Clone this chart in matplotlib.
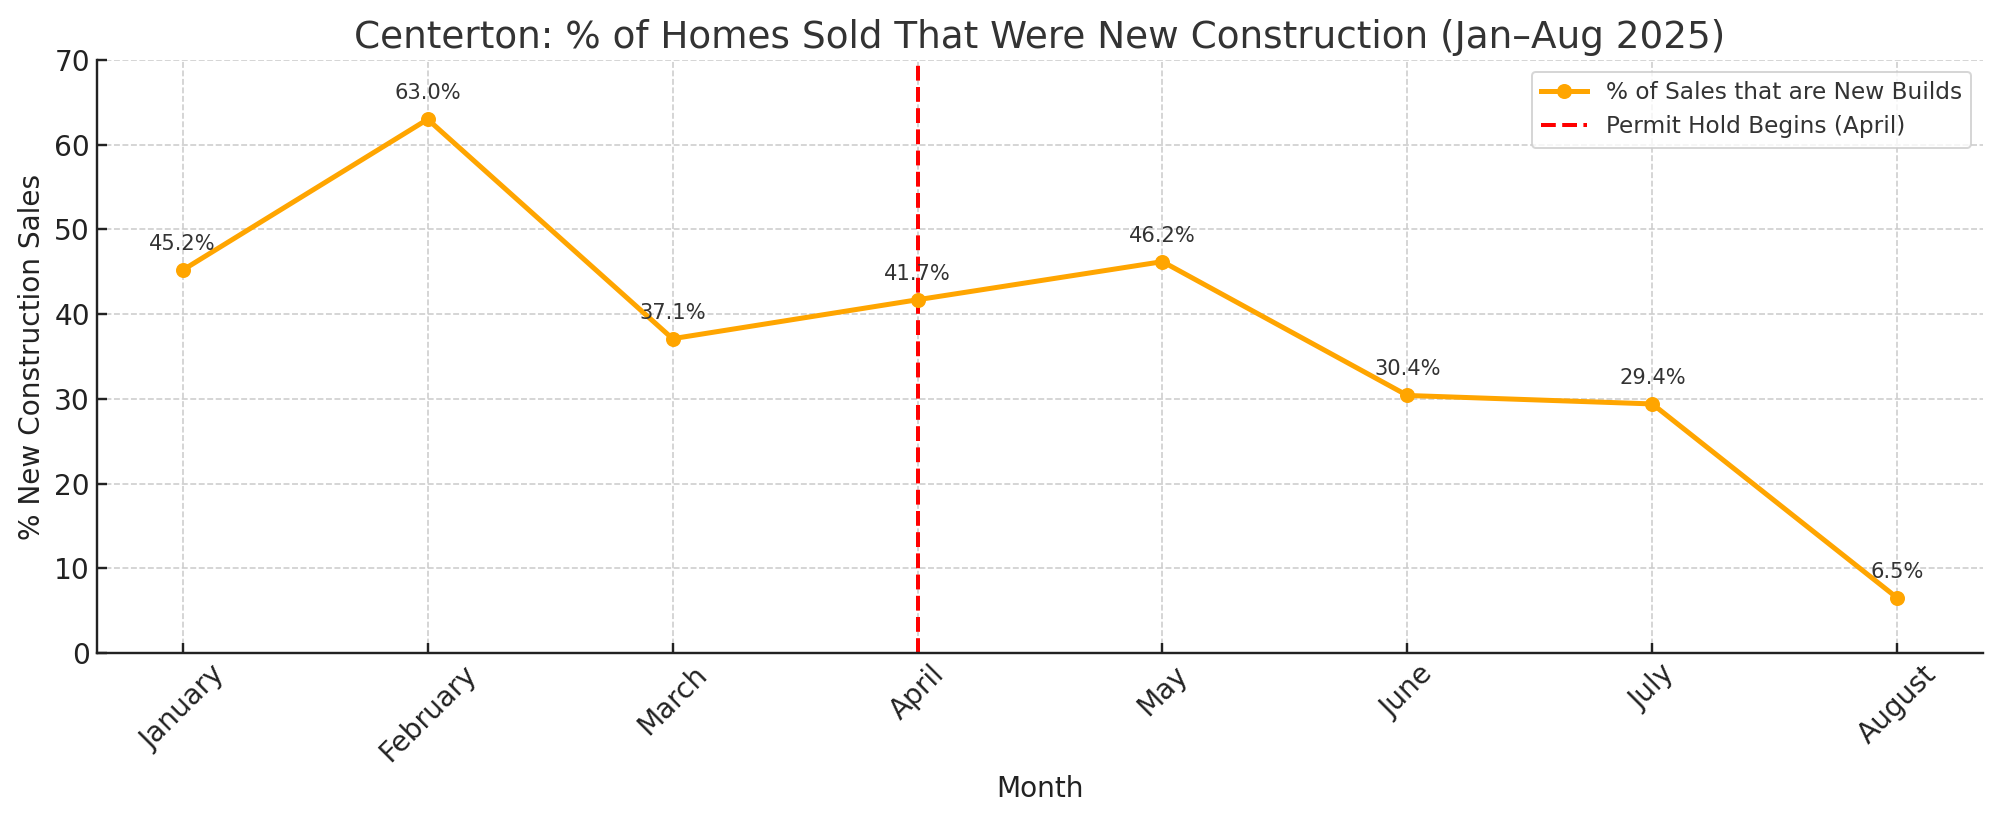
import matplotlib
matplotlib.use('Agg')
import matplotlib.pyplot as plt

months = ['January', 'February', 'March', 'April', 'May', 'June', 'July', 'August']
pct_new = [45.2, 63.0, 37.1, 41.7, 46.2, 30.4, 29.4, 6.5]
hold_month = 'April'

plt.rcParams['text.color'] = '#333333'
plt.rcParams['axes.labelcolor'] = '#222222'
plt.rcParams['xtick.color'] = '#222222'
plt.rcParams['ytick.color'] = '#222222'

fig = plt.figure(figsize=(1998 / 144, 823 / 144), dpi=144)
ax = fig.add_axes([97 / 1998, 1 - 653 / 823, (1983 - 97) / 1998, (653 - 60) / 823])

x = list(range(len(months)))
ax.plot(x, pct_new, color='orange', marker='o', linewidth=2.5, markersize=6.5,
        label='% of Sales that are New Builds', zorder=3)
ax.axvline(months.index(hold_month), color='red', linestyle='--', linewidth=2,
           label='Permit Hold Begins (April)', zorder=2)

for xi, v in zip(x, pct_new):
    ax.annotate(f'{v:.1f}%', (xi, v), textcoords='offset points', xytext=(0, 10),
                ha='center', fontsize=10.5, color='#333333')

ax.set_xticks(x)
ax.set_xticklabels(months, rotation=45, fontsize=14)
ax.tick_params(axis='y', labelsize=14)
ax.tick_params(direction='in', length=5, width=1.2)
ax.set_ylim(0, 70)
ax.set_xlim(-0.35, 7.35)

ax.set_title('Centerton: % of Homes Sold That Were New Construction (Jan\u2013Aug 2025)',
             fontsize=18.7, color='#333333', pad=6)
ax.set_xlabel('Month', fontsize=14, labelpad=4)
ax.set_ylabel('% New Construction Sales', fontsize=14)

ax.grid(True, linestyle='--', color='#cccccc', linewidth=0.8)
ax.spines['top'].set_visible(False)
ax.spines['right'].set_visible(False)
for s in ['left', 'bottom']:
    ax.spines[s].set_color('#222222')
    ax.spines[s].set_linewidth(1.2)

ax.legend(loc='upper right', fontsize=11.6)

fig.savefig('out.png', dpi=144)
